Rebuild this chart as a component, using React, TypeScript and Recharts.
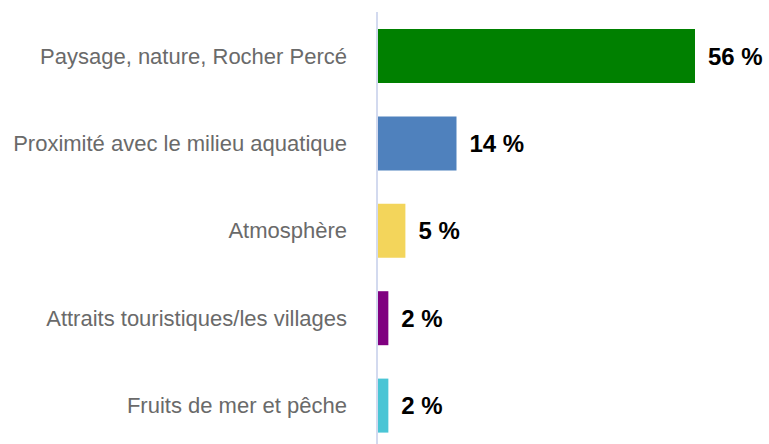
import React from "react";
import { BarChart, Bar, XAxis, YAxis, Cell, LabelList } from "recharts";

const categories = [
    "Paysage, nature, Rocher Percé",
    "Proximité avec le milieu aquatique",
    "Atmosphère",
    "Attraits touristiques/les villages",
    "Fruits de mer et pêche",
];
const values = [56, 14, 5, 2, 2];

const barColors = ["#008000", "#4f81bd", "#f3d55b", "#800080", "#4ac5d5"];

const data = categories.map((name, i) => ({ name, value: values[i] }));

const App = () => {
    return (
        <div
            style={{
                position: "absolute",
                left: 0,
                top: 0,
                width: 769,
                height: 444,
                overflow: "hidden",
                background: "#fff",
            }}
        >
            <BarChart
                layout="vertical"
                width={769}
                height={449}
                data={data}
                margin={{ top: 12, right: 74, left: 0, bottom: 0 }}
            >
                <XAxis type="number" domain={[0, 56]} hide />
                <YAxis
                    type="category"
                    dataKey="name"
                    width={377}
                    tickLine={false}
                    tickSize={0}
                    tickMargin={30}
                    axisLine={{ stroke: "#d3daef", strokeWidth: 2 }}
                    tick={{
                        fill: "#6a6a6a",
                        fontSize: 22,
                        fontFamily: "Liberation Sans, Arial, sans-serif",
                    }}
                />
                <Bar dataKey="value" barSize={54} isAnimationActive={false}>
                    {data.map((d, i) => (
                        <Cell key={d.name} fill={barColors[i]} />
                    ))}
                    <LabelList
                        dataKey="value"
                        position="right"
                        offset={13}
                        formatter={(v: number) => `${v} %`}
                        style={{
                            fill: "#000",
                            fontSize: 24,
                            fontWeight: "bold",
                            fontFamily: "Liberation Sans, Arial, sans-serif",
                        }}
                    />
                </Bar>
            </BarChart>
        </div>
    );
};

export default App;
